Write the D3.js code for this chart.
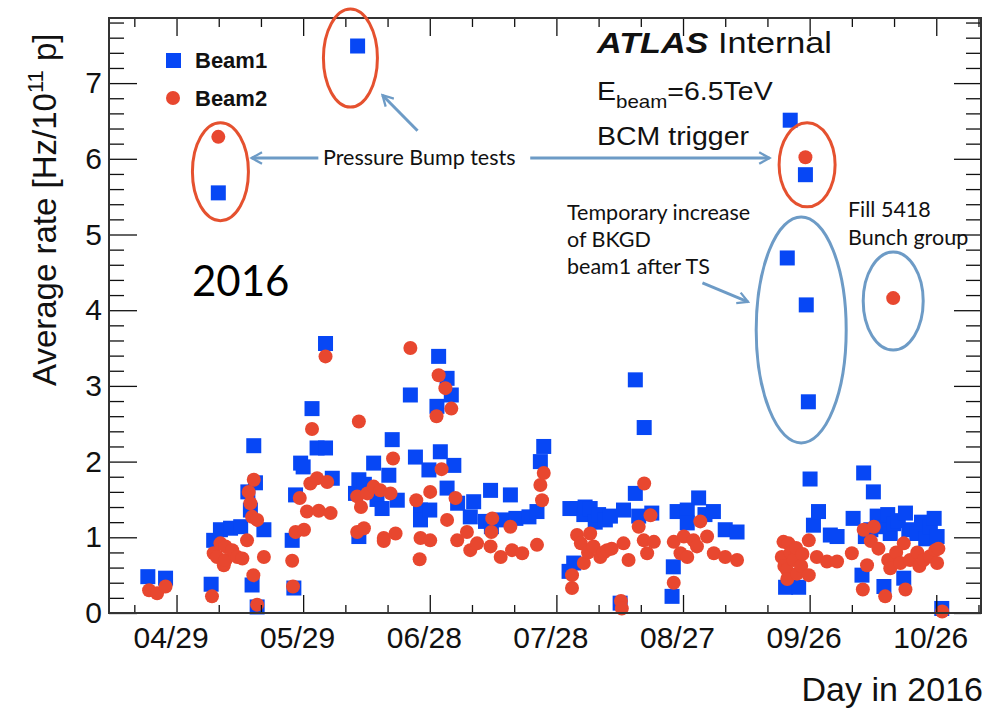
<!DOCTYPE html>
<html>
<head>
<meta charset="utf-8">
<script src="https://cdn.jsdelivr.net/npm/d3@7"></script>
<style>
  body { margin: 0; background: #fff; }
  svg { display: block; }
</style>
</head>
<body>
<script>
var width = 995;
var height = 717;

// day in 2016 (1 = Jan 1) and average rate [Hz/1e11 p]
var beam1Day = [113.2,117.4,128.2,129.9,128.8,130.4,132.8,135.2,136.9,137.5,138.3,138.7,140.7,137.9,139.1,
  147.4,147.8,148.2,149.4,150.0,152.1,155.3,153.3,155.3,156.9,162.9,162.4,163.2,163.2,164.5,166.7,167.5,168.7,
  170.3,171.1,172.3,175.4,176.6,177.8,177.8,179.8,180.0,181.7,182.1,182.5,184.1,185.1,184.1,185.7,186.6,189.6,
  190.4,193.2,194.4,194.6,197.2,199.1,200.4,203.5,205.4,206.2,207.0,213.0,213.2,214.1,214.9,216.5,216.8,218.0,
  219.2,220.0,221.6,222.8,225.1,225.9,228.7,228.7,229.5,230.8,232.6,237.4,237.7,238.6,241.0,241.0,243.7,245.2,
  247.2,250.0,252.8,264.3,267.4,264.7,265.4,269.0,269.2,269.7,270.1,270.9,272.1,274.9,276.5,280.3,282.4,282.8,
  283.2,284.5,285.1,286.0,287.6,287.1,288.5,289.1,289.9,291.0,292.3,292.7,293.5,295.4,296.5,297.5,298.6,299.5,
  300.2,301.3];
var beam1Rate = [0.48,0.46,0.38,5.55,0.96,1.10,1.12,1.14,1.60,1.36,2.21,1.72,1.10,0.37,0.08,
  0.96,0.33,1.56,1.98,1.93,2.70,3.56,2.18,2.18,1.78,7.49,1.58,1.76,1.01,1.70,1.98,1.50,1.38,
  1.82,2.29,1.49,2.88,2.06,1.36,1.23,1.89,1.36,2.73,3.39,2.13,3.10,2.88,1.65,1.95,1.45,1.27,
  1.47,1.21,1.62,1.14,1.23,1.56,1.25,1.27,1.34,2.00,2.20,0.55,1.38,0.66,1.38,1.30,1.40,1.38,
  1.20,1.30,1.23,1.28,0.13,1.36,1.58,3.08,1.28,2.45,1.32,0.22,0.61,1.34,1.36,1.19,1.52,1.30,
  1.34,1.10,1.07,0.34,0.34,4.69,6.51,5.79,4.07,2.79,1.77,1.16,1.34,1.03,1.01,1.25,0.50,1.85,
  1.01,1.10,1.60,1.28,0.35,1.14,1.30,1.05,1.18,1.22,0.46,1.32,1.10,1.05,1.20,0.98,1.14,1.25,
  1.01,0.06];

var beam2Day = [113.5,115.4,117.4,128.4,129.9,128.8,129.6,130.4,131.2,131.6,131.6,133.2,134.4,135.6,136.7,
  137.1,137.5,137.9,138.3,139.1,138.2,139.1,140.7,147.4,147.6,148.2,149.2,150.2,150.9,151.7,152.1,153.3,
  153.7,155.3,155.7,156.5,162.8,162.8,163.2,163.7,164.4,165.2,166.7,168.3,169.1,169.1,170.7,171.3,171.9,
  175.4,176.8,177.6,177.8,180.1,180.1,181.6,182.1,182.8,183.7,184.1,185.1,186.1,186.5,188.8,189.6,191.2,
  194.4,194.6,194.8,196.8,199.1,199.5,201.9,205.4,206.2,206.6,207.0,213.7,213.7,214.9,215.8,216.5,217.5,
  218.0,218.8,220.4,221.2,222.0,223.1,225.3,225.5,225.9,227.1,229.5,230.7,230.8,231.5,232.3,233.1,237.8,
  237.8,239.4,240.2,241.0,242.5,243.3,244.1,245.7,247.3,250.0,252.8,263.4,263.8,264.0,264.6,264.7,265.0,
  265.5,266.2,266.8,267.0,268.0,268.3,269.0,269.8,269.8,271.7,274.1,276.5,280.0,282.6,282.8,283.6,284.5,
  285.2,286.3,287.9,288.6,289.1,289.8,290.5,291.5,292.3,292.7,293.8,295.5,296.0,297.0,298.5,299.8,300.2,
  300.5,301.4];
var beam2Rate = [0.30,0.26,0.35,0.22,6.29,0.79,0.74,0.92,0.63,0.70,0.88,0.83,0.74,0.72,0.96,
  1.60,1.45,1.27,1.76,1.23,0.50,0.11,0.74,0.69,0.35,1.07,1.52,1.10,1.34,1.71,2.43,1.78,
  1.35,3.39,1.73,1.32,1.54,1.07,2.53,1.40,1.12,1.58,1.67,1.62,0.99,0.95,1.58,2.04,1.05,
  3.50,1.49,0.71,0.99,0.96,1.60,2.60,3.14,1.90,2.97,1.23,2.70,1.52,0.96,1.07,0.83,0.92,
  0.88,1.07,1.25,0.74,1.14,0.83,0.79,0.90,1.69,1.49,1.85,0.33,0.50,1.03,0.92,0.66,0.80,
  1.05,0.88,0.74,0.80,0.83,0.85,0.16,0.06,0.92,0.70,1.14,0.96,1.71,0.79,1.29,0.94,0.40,
  0.94,0.79,1.01,0.74,0.96,0.88,1.21,1.01,0.79,0.74,0.70,0.74,0.94,0.62,0.57,0.45,0.92,
  0.80,0.70,0.86,0.52,0.62,0.78,6.02,0.96,0.50,0.74,0.68,0.68,0.79,0.31,1.10,0.63,0.95,
  1.14,0.85,0.22,0.70,0.59,4.16,0.80,0.66,0.92,0.31,0.70,0.80,0.62,0.70,0.75,0.83,0.66,
  0.85,0.02];

var xMajorTicks = [120, 150, 180, 210, 240, 270, 300];
var yMajorTicks = [0, 1, 2, 3, 4, 5, 6, 7];

var blue = "#0747f5";
var red = "#e8472f";
var noteBlue = "#6d9bc6";
var noteRed = "#e5512f";

var frame = {left: 109, right: 981, top: 18, bottom: 613};

var x = d3.scaleLinear().domain([104, 310.6]).range([frame.left, frame.right]);
var y = d3.scaleLinear().domain([0, 7.86]).range([frame.bottom, frame.top]);

var svg = d3.select("body").append("svg")
    .attr("width", width)
    .attr("height", height)
    .style("font-family", "'Liberation Sans', Arial, sans-serif");

svg.append("rect").attr("width", width).attr("height", height).attr("fill", "#fff");

var defs = svg.append("defs");
defs.append("marker")
    .attr("id", "head")
    .attr("viewBox", "0 0 12 12")
    .attr("refX", 10).attr("refY", 6)
    .attr("markerWidth", 4.6).attr("markerHeight", 4.6)
    .attr("markerUnits", "strokeWidth")
    .attr("orient", "auto")
  .append("path")
    .attr("d", "M1,1 L10,6 L1,11")
    .attr("fill", "none")
    .attr("stroke", noteBlue)
    .attr("stroke-width", 2)
    .attr("stroke-linejoin", "miter");

var dayFmt = function (d) { return d3.timeFormat("%m/%d")(new Date(2016, 0, d)); };
var minorX = d3.range(110, 311, 10).filter(function (d) { return xMajorTicks.indexOf(d) < 0; });
var minorY = d3.range(0, 40).map(function (i) { return +(i * 0.2).toFixed(1); })
    .filter(function (d) { return d % 1 !== 0; });

// points
svg.append("g").selectAll("rect")
    .data(beam1Day.map(function (d, i) { return [d, beam1Rate[i]]; }))
    .enter().append("rect")
    .attr("x", function (d) { return x(d[0]) - 7.5; })
    .attr("y", function (d) { return y(d[1]) - 7.5; })
    .attr("width", 15).attr("height", 15)
    .attr("fill", blue);

svg.append("g").selectAll("circle")
    .data(beam2Day.map(function (d, i) { return [d, beam2Rate[i]]; }))
    .enter().append("circle")
    .attr("cx", function (d) { return x(d[0]); })
    .attr("cy", function (d) { return y(d[1]); })
    .attr("r", 7)
    .attr("fill", red);

// axes
function styleAxis(g) {
  g.select(".domain").remove();
  g.selectAll(".tick line").attr("stroke", "#111").attr("stroke-width", 1.3);
  g.selectAll("text").attr("fill", "#111").style("font-family", "'Liberation Sans', Arial, sans-serif");
}

svg.append("g").attr("transform", "translate(0," + frame.bottom + ")")
    .call(d3.axisBottom(x).tickValues(xMajorTicks).tickFormat(dayFmt).tickSizeInner(-18).tickSizeOuter(0).tickPadding(14))
    .call(styleAxis)
    .call(function (g) { g.selectAll("text").attr("font-size", 30).attr("dx", -6); });
svg.append("g").attr("transform", "translate(0," + frame.bottom + ")")
    .call(d3.axisBottom(x).tickValues(minorX).tickFormat("").tickSizeInner(-8).tickSizeOuter(0))
    .call(styleAxis);
svg.append("g").attr("transform", "translate(0," + frame.top + ")")
    .call(d3.axisTop(x).tickValues(xMajorTicks).tickFormat("").tickSizeInner(-18).tickSizeOuter(0))
    .call(styleAxis);
svg.append("g").attr("transform", "translate(0," + frame.top + ")")
    .call(d3.axisTop(x).tickValues(minorX).tickFormat("").tickSizeInner(-9).tickSizeOuter(0))
    .call(styleAxis);

svg.append("g").attr("transform", "translate(" + frame.left + ",0)")
    .call(d3.axisLeft(y).tickValues(yMajorTicks).tickFormat(d3.format("d")).tickSizeInner(-28).tickSizeOuter(0).tickPadding(7))
    .call(styleAxis)
    .call(function (g) { g.selectAll("text").attr("font-size", 30); });
svg.append("g").attr("transform", "translate(" + frame.left + ",0)")
    .call(d3.axisLeft(y).tickValues(minorY).tickFormat("").tickSizeInner(-15).tickSizeOuter(0))
    .call(styleAxis);
svg.append("g").attr("transform", "translate(" + frame.right + ",0)")
    .call(d3.axisRight(y).tickValues(yMajorTicks).tickFormat("").tickSizeInner(-27).tickSizeOuter(0))
    .call(styleAxis);
svg.append("g").attr("transform", "translate(" + frame.right + ",0)")
    .call(d3.axisRight(y).tickValues(minorY).tickFormat("").tickSizeInner(-15).tickSizeOuter(0))
    .call(styleAxis);

svg.append("rect")
    .attr("x", frame.left).attr("y", frame.top)
    .attr("width", frame.right - frame.left).attr("height", frame.bottom - frame.top)
    .attr("fill", "none").attr("stroke", "#333").attr("stroke-width", 2);

// axis titles
svg.append("text")
    .attr("transform", "translate(56,386) rotate(-90)")
    .attr("font-size", 33).attr("fill", "#111")
    .text("Average rate [Hz/10")
  .append("tspan").attr("dy", -13).attr("font-size", 22).text("11")
  .select(function () { return this.parentNode; })
  .append("tspan").attr("dy", 13).text(" p]");

svg.append("text")
    .attr("x", 983).attr("y", 701)
    .attr("text-anchor", "end")
    .attr("font-size", 34).attr("fill", "#111")
    .text("Day in 2016");

// legend
svg.append("rect").attr("x", 166).attr("y", 53).attr("width", 15).attr("height", 15).attr("fill", blue);
svg.append("circle").attr("cx", 173).attr("cy", 98).attr("r", 7).attr("fill", red);
svg.append("text").attr("x", 195).attr("y", 68).attr("font-size", 22).attr("font-weight", "bold")
    .attr("fill", "#111").text("Beam1");
svg.append("text").attr("x", 195).attr("y", 106).attr("font-size", 22).attr("font-weight", "bold")
    .attr("fill", "#111").text("Beam2");

// ATLAS label, slightly widened like the picture
var atlas = svg.append("text").attr("transform", "translate(597,53) scale(1.14,1)")
    .attr("font-size", 30).attr("fill", "#111");
atlas.append("tspan").attr("font-weight", "bold").attr("font-style", "italic").text("ATLAS");
atlas.append("tspan").text(" Internal");

var ebeam = svg.append("text").attr("transform", "translate(597,100) scale(1.14,1)")
    .attr("font-size", 25).attr("fill", "#111");
ebeam.append("tspan").text("E");
ebeam.append("tspan").attr("dy", 8).attr("font-size", 18).text("beam");
ebeam.append("tspan").attr("dy", -8).text("=6.5TeV");

svg.append("text").attr("transform", "translate(597,145) scale(1.14,1)")
    .attr("font-size", 25).attr("fill", "#111").text("BCM trigger");

// annotations, placed in data units
var redRings = [[130.4, 5.83, 28, 49], [161.2, 7.33, 27, 49], [269.4, 5.92, 28, 42]];
var blueRings = [[268.0, 3.74, 45, 113], [289.8, 4.12, 30, 49]];
var arrows = [[153.6, 6.01, 137.8, 6.01], [203.8, 6.01, 260.5, 6.01],
              [177.1, 6.37, 168.8, 6.84], [244.6, 4.36, 255.4, 4.11]];

svg.append("g").selectAll("ellipse")
    .data(redRings).enter().append("ellipse")
    .attr("cx", function (d) { return x(d[0]); })
    .attr("cy", function (d) { return y(d[1]); })
    .attr("rx", function (d) { return d[2]; })
    .attr("ry", function (d) { return d[3]; })
    .attr("fill", "none").attr("stroke", noteRed).attr("stroke-width", 3);

svg.append("g").selectAll("ellipse")
    .data(blueRings).enter().append("ellipse")
    .attr("cx", function (d) { return x(d[0]); })
    .attr("cy", function (d) { return y(d[1]); })
    .attr("rx", function (d) { return d[2]; })
    .attr("ry", function (d) { return d[3]; })
    .attr("fill", "none").attr("stroke", noteBlue).attr("stroke-width", 3);

svg.append("g").selectAll("line")
    .data(arrows).enter().append("line")
    .attr("x1", function (d) { return x(d[0]); })
    .attr("y1", function (d) { return y(d[1]); })
    .attr("x2", function (d) { return x(d[2]); })
    .attr("y2", function (d) { return y(d[3]); })
    .attr("stroke", noteBlue).attr("stroke-width", 3)
    .attr("marker-end", "url(#head)");

var note = "Lato, 'Open Sans', sans-serif";
svg.append("text").attr("x", 323).attr("y", 165).attr("font-size", 21.5)
    .style("font-family", note).attr("fill", "#111").text("Pressure Bump tests");

svg.append("g").selectAll("text")
    .data(["Temporary increase", "of BKGD", "beam1 after TS"])
    .enter().append("text")
    .attr("x", 567)
    .attr("y", function (d, i) { return 220 + i * 27; })
    .attr("font-size", 21.5).style("font-family", note).attr("fill", "#111")
    .text(function (d) { return d; });

svg.append("g").selectAll("text")
    .data(["Fill 5418", "Bunch group"])
    .enter().append("text")
    .attr("x", 848)
    .attr("y", function (d, i) { return 217 + i * 28; })
    .attr("font-size", 21.5).style("font-family", note).attr("fill", "#111")
    .text(function (d) { return d; });

svg.append("text").attr("x", 192).attr("y", 296).attr("font-size", 42)
    .style("font-family", note).attr("fill", "#000").text("2016");
</script>
</body>
</html>
